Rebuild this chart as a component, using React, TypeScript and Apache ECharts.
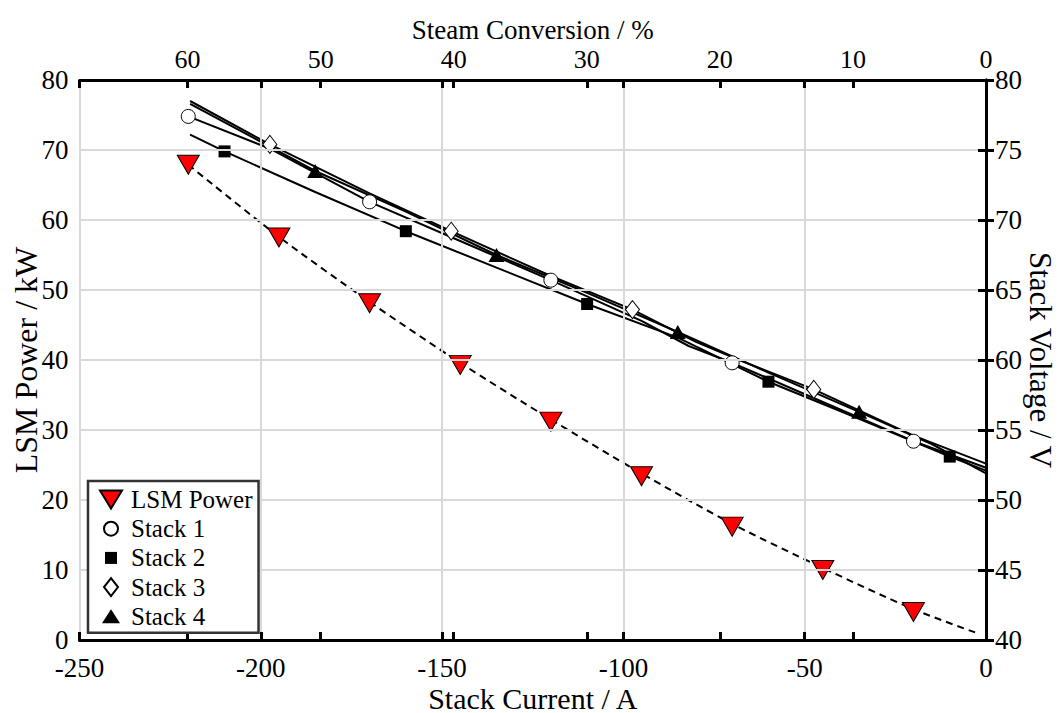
import React, { useEffect, useRef } from "react";
import * as echarts from "echarts";

// ---- data ----
const lsmCurrent = [-220, -195, -170, -145, -120, -95, -70, -45, -20];
const lsmPower = [67.9, 57.5, 48.1, 39.3, 31.2, 23.4, 16.2, 10.0, 4.0];

const fitCurrent = [-220, -195, -170, -145, -120, -95, -70, -45, -20, -2];
const fitPower = [67.9, 57.6, 48.3, 39.6, 31.5, 23.8, 16.6, 10.3, 4.4, 0.9];

const s1LineCurrent = [-220, -197.5, -170, -145, -120, -95, -82, -70, -45, -20, 0];
const s1LineVoltage = [77.4, 75.1, 71.3, 68.5, 65.7, 62.8, 61.0, 59.8, 57.0, 54.2, 52.3];
const s2LineCurrent = [-219.5, -210, -185, -160, -135, -110, -85, -60, -35, -10, 0];
const s2LineVoltage = [76.1, 74.9, 72.0, 69.2, 66.6, 64.0, 61.6, 58.45, 55.8, 53.1, 52.1];
const s3LineCurrent = [-219.5, -197.5, -170, -147.5, -120, -97.5, -80, -70, -47.5, -20, 0];
const s3LineVoltage = [78.5, 75.4, 71.9, 69.2, 66.0, 63.6, 61.3, 60.2, 57.9, 54.6, 52.6];
const s4LineCurrent = [-219.5, -185, -160, -135, -110, -85, -60, -35, -15, 0];
const s4LineVoltage = [78.3, 73.5, 70.6, 67.5, 64.8, 62.0, 59.1, 56.3, 54.0, 51.9];

const s1MarkCurrent = [-220, -170, -120, -70, -20];
const s1MarkVoltage = [77.4, 71.3, 65.7, 59.8, 54.2];
const s2MarkCurrent = [-210, -160, -110, -60, -10];
const s2MarkVoltage = [74.9, 69.2, 64.0, 58.45, 53.1];
const s3MarkCurrent = [-197.5, -147.5, -97.5, -47.5];
const s3MarkVoltage = [75.4, 69.2, 63.6, 57.9];
const s4MarkCurrent = [-185, -135, -85, -35];
const s4MarkVoltage = [73.5, 67.5, 62.0, 56.3];

const seriesNames = ["LSM Power", "Stack 1", "Stack 2", "Stack 3", "Stack 4"];
// steam conversion: 10 % corresponds to 36.7 A
const ampsPerPercent = 3.67;

const zip = (a: number[], b: number[]) => a.map((v, i) => [v, b[i]]);

const FONT = "Liberation Serif";
const GRID_COLOR = "#d9d9d9";

const axisLineStyle = { show: true, lineStyle: { color: "#000", width: 3 } };
const tickStyle = { show: true, inside: true, length: 8, lineStyle: { color: "#000", width: 3 } };
const labelStyle = { color: "#000", fontFamily: FONT, fontSize: 27 };
const nameStyle = (size: number) => ({ color: "#000", fontFamily: FONT, fontSize: size });

const triDown = "path://M0 0L22 0L11 19Z";
const legTri = "path://M0 0M30 20M4 1L26 1L15 19Z";
const legCircle = "path://M0 0M30 20M8 10A7 7 0 1 0 22 10A7 7 0 1 0 8 10Z";
const legSquare = "path://M0 0M30 20M9 4L21 4L21 16L9 16Z";
const legDiamond = "path://M0 0M30 20M15 1L22 10L15 19L8 10Z";
const legTriUp = "path://M0 0M30 20M15 3L24 17L6 17Z";

export default function App() {
  const ref = useRef<HTMLDivElement>(null);
  useEffect(() => {
    if (!ref.current) return;
    const chart = echarts.init(ref.current, undefined, { renderer: "svg" });
    const convMax = 250 / ampsPerPercent;
    const lineSeries = (data: number[][]) => ({
      type: "line",
      xAxisIndex: 0,
      yAxisIndex: 1,
      data,
      symbol: "none",
      silent: true,
      lineStyle: { color: "#000", width: 2 },
      z: 2,
    });
    chart.setOption({
      animation: false,
      backgroundColor: "#fff",
      grid: {
        left: 79.5,
        right: 73,
        top: 80,
        bottom: 73,
        containLabel: false,
        outerBoundsMode: "none",
      },
      legend: {
        orient: "vertical",
        left: 88,
        top: 481,
        padding: [6, 6, 4, 7],
        itemWidth: 30,
        itemHeight: 20,
        itemGap: 4.2,
        borderColor: "#333",
        borderWidth: 2.5,
        backgroundColor: "#fff",
        textStyle: { color: "#000", fontFamily: FONT, fontSize: 25, lineHeight: 25 },
        data: [
          { name: seriesNames[0], icon: legTri },
          { name: seriesNames[1], icon: legCircle },
          { name: seriesNames[2], icon: legSquare },
          { name: seriesNames[3], icon: legDiamond },
          { name: seriesNames[4], icon: legTriUp },
        ],
        selectedMode: false,
        z: 10,
      },
      xAxis: [
        {
          type: "value",
          position: "bottom",
          min: -250,
          max: 0,
          interval: 50,
          name: "Stack Current / A",
          nameLocation: "middle",
          nameGap: 43,
          nameMoveOverlap: false,
          nameTextStyle: nameStyle(30),
          axisLine: axisLineStyle,
          axisTick: tickStyle,
          axisLabel: { ...labelStyle, margin: 14 },
          splitLine: { show: true, lineStyle: { color: GRID_COLOR, width: 2 } },
          z: 5,
        },
        {
          type: "value",
          position: "top",
          min: 0,
          max: convMax,
          interval: 10,
          inverse: true,
          name: "Steam Conversion / %",
          nameLocation: "middle",
          nameGap: 36.5,
          nameMoveOverlap: false,
          nameTextStyle: nameStyle(27),
          axisLine: axisLineStyle,
          axisTick: tickStyle,
          axisLabel: { ...labelStyle, fontSize: 26, margin: 8, showMaxLabel: false },
          splitLine: { show: false },
          z: 5,
        },
        {
          type: "value",
          position: "bottom",
          min: 0,
          max: convMax,
          interval: 10,
          inverse: true,
          axisLine: { show: false },
          axisTick: tickStyle,
          axisLabel: { show: false },
          splitLine: { show: false },
          z: 5,
        },
        {
          type: "value",
          position: "top",
          min: -250,
          max: 0,
          interval: 50,
          axisLine: { show: false },
          axisTick: tickStyle,
          axisLabel: { show: false },
          splitLine: { show: false },
          z: 5,
        },
      ],
      yAxis: [
        {
          type: "value",
          position: "left",
          min: 0,
          max: 80,
          interval: 10,
          name: "LSM Power / kW",
          nameLocation: "middle",
          nameGap: 37.5,
          nameMoveOverlap: false,
          nameRotate: 90,
          nameTextStyle: nameStyle(32),
          axisLine: axisLineStyle,
          axisTick: tickStyle,
          axisLabel: { ...labelStyle, margin: 11 },
          splitLine: { show: true, lineStyle: { color: GRID_COLOR, width: 2 } },
          z: 5,
        },
        {
          type: "value",
          position: "right",
          min: 40,
          max: 80,
          interval: 5,
          name: "Stack Voltage / V",
          nameLocation: "middle",
          nameGap: 38.5,
          nameMoveOverlap: false,
          nameRotate: -90,
          nameTextStyle: nameStyle(31),
          axisLine: axisLineStyle,
          axisTick: tickStyle,
          axisLabel: { ...labelStyle, margin: 9 },
          splitLine: { show: false },
          z: 5,
        },
      ],
      series: [
        {
          type: "line",
          name: "LSM fit",
          xAxisIndex: 0,
          yAxisIndex: 0,
          data: zip(fitCurrent, fitPower),
          symbol: "none",
          smooth: 0.3,
          silent: true,
          lineStyle: { color: "#000", width: 2, type: [7, 5] },
          z: 2,
        },
        lineSeries(zip(s1LineCurrent, s1LineVoltage)),
        lineSeries(zip(s2LineCurrent, s2LineVoltage)),
        lineSeries(zip(s3LineCurrent, s3LineVoltage)),
        lineSeries(zip(s4LineCurrent, s4LineVoltage)),
        {
          type: "scatter",
          name: seriesNames[0],
          xAxisIndex: 0,
          yAxisIndex: 0,
          data: zip(lsmCurrent, lsmPower),
          symbol: triDown,
          symbolSize: [22, 19],
          itemStyle: { color: "#ff0000", borderColor: "#000", borderWidth: 1, opacity: 1 },
          z: 4,
        },
        {
          type: "scatter",
          name: seriesNames[1],
          xAxisIndex: 0,
          yAxisIndex: 1,
          data: zip(s1MarkCurrent, s1MarkVoltage),
          symbol: "circle",
          symbolSize: 14,
          itemStyle: { color: "#fff", borderColor: "#000", borderWidth: 1, opacity: 1 },
          z: 4,
        },
        {
          type: "scatter",
          name: seriesNames[2],
          xAxisIndex: 0,
          yAxisIndex: 1,
          data: zip(s2MarkCurrent, s2MarkVoltage),
          symbol: "rect",
          symbolSize: 12,
          itemStyle: { color: "#000", borderColor: "#000", borderWidth: 0, opacity: 1 },
          z: 4,
        },
        {
          type: "scatter",
          name: seriesNames[3],
          xAxisIndex: 0,
          yAxisIndex: 1,
          data: zip(s3MarkCurrent, s3MarkVoltage),
          symbol: "diamond",
          symbolSize: [14, 18],
          itemStyle: { color: "#fff", borderColor: "#000", borderWidth: 1, opacity: 1 },
          z: 4,
        },
        {
          type: "scatter",
          name: seriesNames[4],
          xAxisIndex: 0,
          yAxisIndex: 1,
          data: zip(s4MarkCurrent, s4MarkVoltage),
          symbol: "triangle",
          symbolSize: [16, 14],
          itemStyle: { color: "#000", borderColor: "#000", borderWidth: 0, opacity: 1 },
          z: 4,
        },
      ],
    });
    return () => chart.dispose();
  }, []);
  return (
    <div
      ref={ref}
      style={{ position: "fixed", left: 0, top: 0, width: 1059, height: 713, background: "#fff" }}
    />
  );
}
